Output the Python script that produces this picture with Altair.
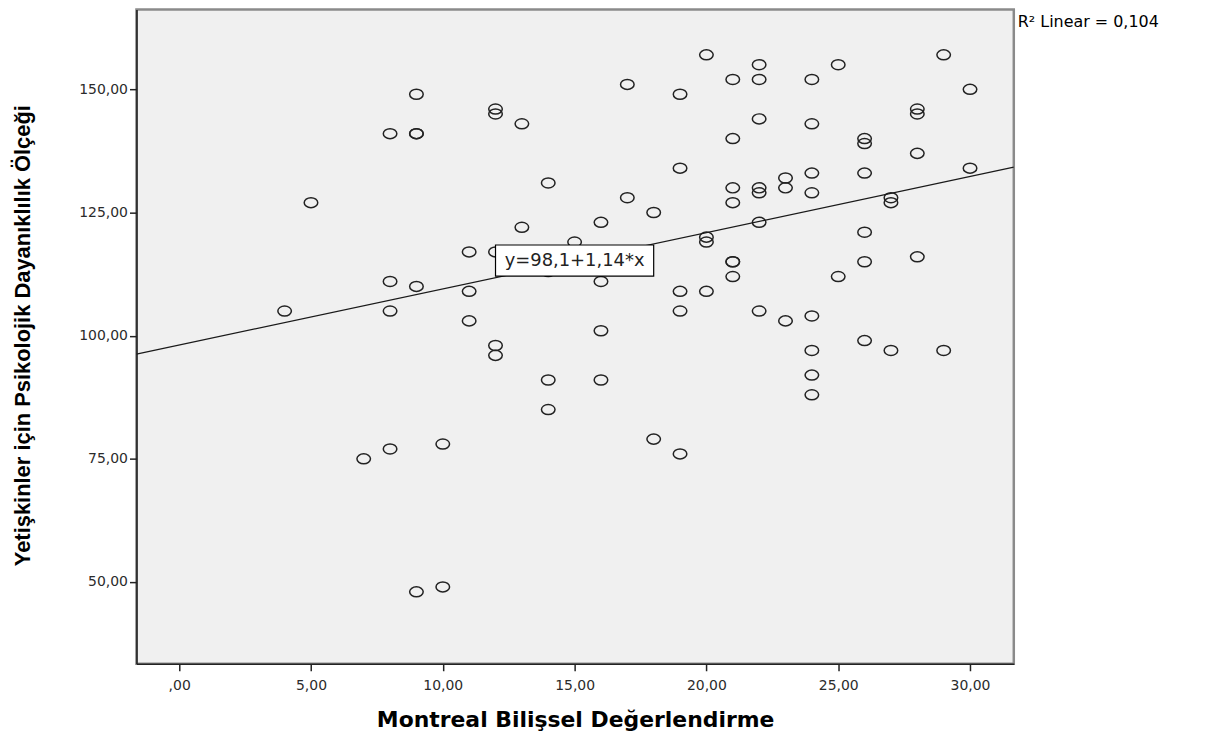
import altair as alt
import pandas as pd

# ---- data ----
x_vals = [4, 5, 7, 8, 8, 8, 8, 9, 9, 9, 9, 9, 10, 10, 11, 11, 11, 12, 12, 12, 12, 12,
          13, 13, 14, 14, 14, 14, 15, 16, 16, 16, 16, 17, 17, 18, 18, 19, 19, 19, 19, 19,
          20, 20, 20, 20, 21, 21, 21, 21, 21, 21, 21, 22, 22, 22, 22, 22, 22, 22,
          23, 23, 23, 24, 24, 24, 24, 24, 24, 24, 24, 25, 25, 26, 26, 26, 26, 26, 26,
          27, 27, 27, 28, 28, 28, 28, 29, 29, 30, 30]
y_vals = [105, 127, 75, 141, 111, 105, 77, 149, 141, 141, 110, 48, 78, 49, 117, 109, 103, 146, 145, 117, 98, 96,
          143, 122, 131, 113, 91, 85, 119, 123, 111, 101, 91, 151, 128, 125, 79, 149, 134, 109, 105, 76,
          157, 120, 119, 109, 152, 140, 130, 127, 115, 115, 112, 155, 152, 144, 130, 129, 123, 105,
          132, 130, 103, 152, 143, 133, 129, 104, 97, 92, 88, 155, 112, 140, 139, 133, 121, 115, 99,
          128, 127, 97, 146, 145, 137, 116, 157, 97, 150, 134]

fit_intercept = 98.1
fit_slope = 1.14
x_domain = [-1.62, 31.66]
y_domain = [33.4, 166.2]
x_ticks = [0, 5, 10, 15, 20, 25, 30]
y_ticks = [50, 75, 100, 125, 150]

eq_label = "y=98,1+1,14*x"
eq_box_x = [12.0, 18.0]
eq_box_y = [112.1, 118.4]
r2_label = "R\u00b2 Linear = 0,104"

x_title = "Montreal Bilişsel Değerlendirme"
y_title = "Yetişkinler için Psikolojik Dayanıklılık Ölçeği"

W, H = 881, 657

points_df = pd.DataFrame({"x": x_vals, "y": y_vals})
line_df = pd.DataFrame({"x": x_domain})
box_df = pd.DataFrame({"x": [eq_box_x[0]], "x2": [eq_box_x[1]],
                       "y": [eq_box_y[0]], "y2": [eq_box_y[1]],
                       "xm": [(eq_box_x[0] + eq_box_x[1]) / 2],
                       "ym": [(eq_box_y[0] + eq_box_y[1]) / 2],
                       "label": [eq_label]})
r2_df = pd.DataFrame({"label": [r2_label]})

label_expr = "datum.value == 0 ? ',00' : replace(format(datum.value, '.2f'), '.', ',')"

xscale = alt.Scale(domain=x_domain, nice=False, zero=False)
yscale = alt.Scale(domain=y_domain, nice=False, zero=False)

x_axis = alt.Axis(values=x_ticks, labelExpr=label_expr, title=x_title, grid=False,
                  titleFont="DejaVu Sans", titleFontWeight="bold", titleFontSize=22,
                  titleColor="black", titleX=W / 2, titleY=56, titleBaseline="middle",
                  titleAlign="center", labelPadding=8)
y_axis = alt.Axis(values=y_ticks, labelExpr=label_expr, title=y_title, grid=False,
                  titleFont="Liberation Sans", titleFontWeight="bold", titleFontSize=22,
                  titleColor="black", titleX=-114, titleY=327, titleBaseline="middle",
                  titleAlign="center", titleAngle=-90, labelPadding=2)

ellipse = ("M-1,0 C-1,-0.4087 -0.5523,-0.74 0,-0.74 C0.5523,-0.74 1,-0.4087 1,0 "
           "C1,0.4087 0.5523,0.74 0,0.74 C-0.5523,0.74 -1,0.4087 -1,0 Z")

points = alt.Chart(points_df).mark_point(
    shape=ellipse, filled=False, size=185, stroke="#222", strokeWidth=1.5, opacity=1
).encode(
    x=alt.X("x:Q", scale=xscale, axis=x_axis),
    y=alt.Y("y:Q", scale=yscale, axis=y_axis),
)

fit = alt.Chart(line_df).transform_calculate(
    y=f"{fit_intercept} + {fit_slope} * datum.x"
).mark_line(color="#1a1a1a", strokeWidth=1.2, clip=True).encode(
    x=alt.X("x:Q", scale=xscale),
    y=alt.Y("y:Q", scale=yscale),
)

box = alt.Chart(box_df).mark_rect(fill="white", stroke="black", strokeWidth=1.2).encode(
    x=alt.X("x:Q", scale=xscale), x2="x2:Q",
    y=alt.Y("y:Q", scale=yscale), y2="y2:Q",
)

box_text = alt.Chart(box_df).mark_text(
    font="DejaVu Sans", fontSize=18, color="#222", align="center", baseline="middle"
).encode(
    x=alt.X("xm:Q", scale=xscale),
    y=alt.Y("ym:Q", scale=yscale),
    text="label:N",
)

r2 = alt.Chart(r2_df).mark_text(
    font="DejaVu Sans", fontSize=16, color="black", align="left", baseline="alphabetic"
).encode(
    x=alt.value(W + 4), y=alt.value(18), text="label:N"
)

chart = alt.layer(points, fit, box, box_text, r2).properties(
    width=W, height=H,
    background="white",
    autosize=alt.AutoSizeParams(type="none"),
    padding={"left": 129, "top": 0, "right": 190, "bottom": 70},
).configure_view(
    fill="#F0F0F0", stroke="#8a8a8a", strokeWidth=2.5
).configure_axis(
    labelFont="DejaVu Sans", labelFontSize=14, labelColor="#2b2b2b",
    tickColor="#222", tickSize=7, tickWidth=1.5,
    domainColor="#222", domainWidth=1.6,
)

chart.save("out.html", embed_options={"renderer": "svg", "actions": False})
